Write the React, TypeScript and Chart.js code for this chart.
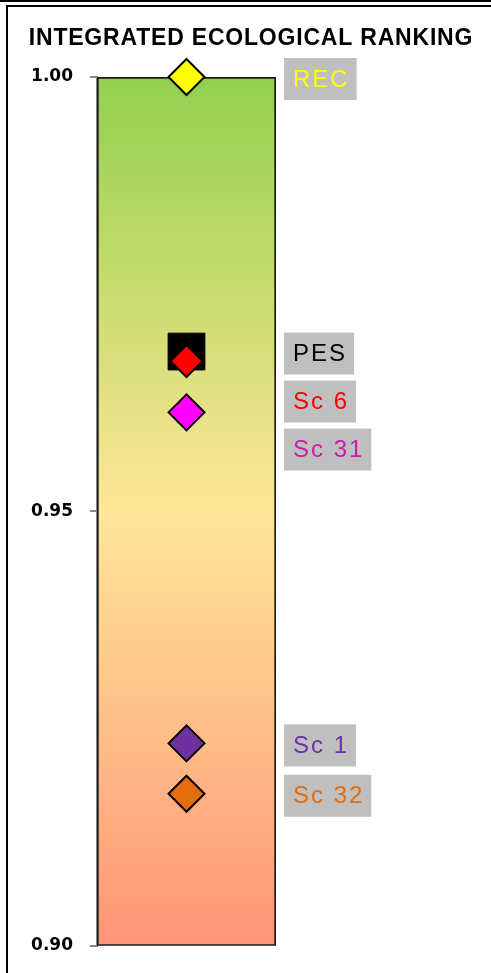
import React, { useEffect, useRef } from "react";
import { Chart, registerables } from "chart.js";

Chart.register(...registerables);

const chartTitle = "INTEGRATED ECOLOGICAL RANKING";
const scenarios = ["REC", "PES", "Sc 6", "Sc 31", "Sc 1", "Sc 32"];
const scores = [1.0, 0.9684, 0.9673, 0.9614, 0.9233, 0.9175];
const markerColors = ["#FFFF00", "#000000", "#FF0000", "#FF00FF", "#7030A0", "#E46C0A"];
const labelColors = ["#FFFF00", "#000000", "#FF0000", "#C81EAA", "#7030A0", "#E46C0A"];
const markerShapes = ["rectRot", "rect", "rectRot", "rectRot", "rectRot", "rectRot"];
const axisMin = 0.9;
const axisMax = 1.0;
const axisStep = 0.05;
const bandRange = [axisMin, axisMax];

const W = 491;
const H = 973;

const titlePlugin = {
  id: "customTitle",
  afterDraw(chart: any) {
    const ctx = chart.ctx;
    ctx.save();
    ctx.font = "bold 23px 'Liberation Sans', Arial, sans-serif";
    try { (ctx as any).letterSpacing = "0.8px"; } catch (e) {}
    ctx.fillStyle = "#000";
    ctx.textAlign = "center";
    ctx.textBaseline = "alphabetic";
    ctx.fillText(chartTitle, 251, 45);
    ctx.restore();
  },
};

const labelPlugin = {
  id: "scenarioLabels",
  afterDraw(chart: any) {
    const ctx = chart.ctx;
    const area = chart.chartArea;
    const yScale = chart.scales.y;
    const boxH = 42;
    const gap = 6;
    const items = scenarios.map((name, i) => ({ name, i, y: yScale.getPixelForValue(scores[i]) }));
    items.sort((a, b) => a.y - b.y);
    let prevBottom = -Infinity;
    ctx.save();
    ctx.font = "24px 'Liberation Sans', Arial, sans-serif";
    try { (ctx as any).letterSpacing = "2px"; } catch (e) {}
    ctx.textBaseline = "middle";
    ctx.textAlign = "left";
    for (const it of items) {
      let top = it.y - boxH / 2 + 2;
      if (top < prevBottom + gap) top = prevBottom + gap;
      prevBottom = top + boxH;
      const tw = ctx.measureText(it.name).width;
      const left = area.right + 8;
      ctx.fillStyle = "#BFBFBF";
      ctx.fillRect(left, top, tw + 16, boxH);
      ctx.fillStyle = labelColors[it.i];
      ctx.fillText(it.name, left + 9, top + boxH / 2 + 1);
    }
    ctx.restore();
  },
};

export default function App() {
  const canvasRef = useRef<HTMLCanvasElement | null>(null);

  useEffect(() => {
    const canvas = canvasRef.current;
    if (!canvas) return;

    const gradientFill = (context: any) => {
      const chart = context.chart;
      const area = chart.chartArea;
      if (!area) return "#FFE699";
      const g = chart.ctx.createLinearGradient(0, area.top, 0, area.bottom);
      g.addColorStop(0, "#92D050");
      g.addColorStop(0.25, "#C9DC70");
      g.addColorStop(0.5, "#FFE699");
      g.addColorStop(0.72, "#FFC38A");
      g.addColorStop(1, "#FF9478");
      return g;
    };

    const markerDatasets = scenarios.map((name, i) => ({
      type: "line" as const,
      label: name,
      data: [scores[i]],
      showLine: false,
      pointStyle: markerShapes[i],
      pointRadius: markerShapes[i] === "rect" ? 26 : name === "Sc 6" ? 16 : 18,
      pointHoverRadius: markerShapes[i] === "rect" ? 26 : 18,
      pointBackgroundColor: markerColors[i],
      pointBorderColor: "#000000",
      pointBorderWidth: markerShapes[i] === "rect" ? 1 : 2,
      clip: false,
      order: markerShapes[i] === "rect" ? 50 : 1,
    }));

    const chart = new Chart(canvas, {
      data: {
        labels: [""],
        datasets: [
          {
            type: "bar" as const,
            label: "band",
            data: [bandRange as any],
            backgroundColor: gradientFill,
            borderColor: "#1A1A1A",
            borderWidth: 2,
            borderSkipped: false,
            barPercentage: 1,
            categoryPercentage: 1,
            order: 100,
          },
          ...markerDatasets,
        ] as any,
      },
      options: {
        animation: false,
        responsive: false,
        devicePixelRatio: 1,
        layout: { padding: { top: 77, bottom: 25, left: 0, right: 215 } },
        plugins: {
          legend: { display: false },
          title: { display: false },
          tooltip: { enabled: false },
        },
        scales: {
          x: { type: "category", display: false },
          y: {
            type: "linear",
            min: axisMin,
            max: axisMax,
            z: 1,
            afterFit(scale: any) {
              scale.width = 97;
            },
            border: { display: true, color: "#868686", width: 2 },
            grid: {
              color: (ctx: any) =>
                ctx.tick && Math.abs(ctx.tick.value - 0.95) < 1e-6 ? "#D4D4D4" : "rgba(0,0,0,0)",
              lineWidth: 2,
              tickColor: "#868686",
              tickLength: 7,
              drawTicks: true,
            },
            ticks: {
              stepSize: axisStep,
              padding: 17,
              color: "#000",
              font: { family: "'DejaVu Sans', Verdana, sans-serif", size: 17, weight: "bold" },
              callback: (v: any) => Number(v).toFixed(2),
            },
          },
        },
      } as any,
      plugins: [titlePlugin, labelPlugin],
    });

    return () => chart.destroy();
  }, []);

  return (
    <div
      style={{
        position: "absolute",
        left: 0,
        top: 0,
        width: W,
        height: H,
        overflow: "hidden",
        background: "#fff",
      }}
    >
      <div style={{ position: "absolute", left: 0, top: 0, width: W, height: 2, background: "#000" }} />
      <div
        style={{
          position: "absolute",
          left: 6,
          top: 5,
          width: 600,
          height: 1100,
          border: "2px solid #000",
        }}
      />
      <canvas
        ref={canvasRef}
        width={W}
        height={H}
        style={{ position: "absolute", left: 0, top: 0, width: W, height: H }}
      />
    </div>
  );
}
